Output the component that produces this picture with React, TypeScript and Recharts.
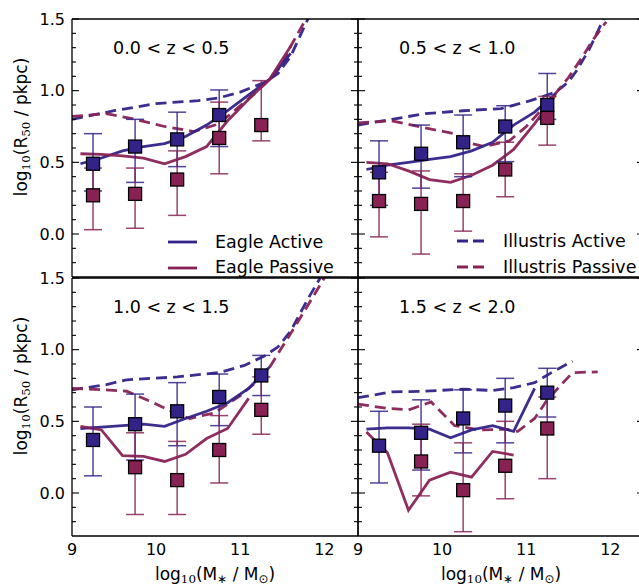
import React from 'react';
import { ComposedChart, ErrorBar, Line, Scatter, XAxis, YAxis } from 'recharts';

const BLUE = '#332288';
const WINE = '#882255';
const FONT = '"DejaVu Sans", sans-serif';

// mass bins of the observed medians
const obsX = [9.25, 9.75, 10.25, 10.75, 11.25];
// Eagle curves all sit on one mass grid
const eagleX = [9.1, 9.35, 9.6, 9.85, 10.1, 10.35, 10.6, 10.85, 11.1, 11.35, 11.6];

const zLabels = ['0.0 < z < 0.5', '0.5 < z < 1.0', '1.0 < z < 1.5', '1.5 < z < 2.0'];

const xTickLabels = [9, 10, 11, 12];
const yTickLabels = [0, 0.5, 1, 1.5];
const xTicksAll = [9, 9.25, 9.5, 9.75, 10, 10.25, 10.5, 10.75, 11, 11.25, 11.5, 11.75, 12, 12.25];
const yTicksAll = [-0.2, -0.1, 0, 0.1, 0.2, 0.3, 0.4, 0.5, 0.6, 0.7, 0.8, 0.9, 1, 1.1, 1.2, 1.3, 1.4, 1.5];

// --- 0.0 < z < 0.5
const activeMed0 = [0.49, 0.61, 0.66, 0.83, null];
const activeLo0 = [0.3, 0.36, 0.47, 0.61, null];
const activeHi0 = [0.7, 0.8, 0.85, 1.005, null];
const passiveMed0 = [0.27, 0.28, 0.38, 0.67, 0.76];
const passiveLo0 = [0.03, 0.04, 0.13, 0.42, 0.65];
const passiveHi0 = [0.46, 0.46, 0.58, 0.92, 1.07];
const eagleActive0 = [0.49, 0.53, 0.58, 0.61, 0.63, 0.68, 0.76, 0.86, 0.97, 1.08, 1.26];
const eaglePassive0 = [0.56, 0.555, 0.545, 0.53, 0.49, 0.54, 0.61, 0.79, 0.94, 1.08, 1.31];
const illActive0: [number, number][] = [
  [9.0, 0.8], [9.5, 0.86], [10.0, 0.91], [10.5, 0.93], [10.75, 0.95], [11.0, 0.99],
  [11.3, 1.06], [11.45, 1.12], [11.6, 1.24], [11.82, 1.52],
];
const illPassive0: [number, number][] = [
  [9.0, 0.82], [9.4, 0.84], [9.75, 0.8], [10.1, 0.75], [10.45, 0.715], [10.7, 0.76],
  [10.85, 0.82], [11.05, 0.92], [11.3, 1.05], [11.5, 1.18], [11.6, 1.31], [11.8, 1.52],
];

// --- 0.5 < z < 1.0
const activeMed1 = [0.43, 0.56, 0.64, 0.75, 0.9];
const activeLo1 = [0.2, 0.32, 0.4, 0.505, 0.8];
const activeHi1 = [0.65, 0.76, 0.83, 0.895, 1.12];
const passiveMed1 = [0.23, 0.21, 0.23, 0.45, 0.81];
const passiveLo1 = [-0.02, -0.14, 0.02, 0.26, 0.62];
const passiveHi1 = [0.43, 0.44, 0.42, 0.64, 0.96];
const eagleActive1 = [0.45, 0.48, 0.5, 0.52, 0.54, 0.58, 0.64, 0.76, 0.85, 0.98];
const eaglePassive1 = [0.5, 0.49, 0.44, 0.38, 0.36, 0.41, 0.48, 0.59, 0.77, 0.97];
const illActive1: [number, number][] = [
  [9.0, 0.76], [9.4, 0.8], [9.8, 0.84], [10.25, 0.86], [10.7, 0.875], [11.05, 0.93],
  [11.35, 0.99], [11.5, 1.06], [11.6, 1.14], [11.75, 1.29], [11.92, 1.5],
];
const illPassive1: [number, number][] = [
  [9.0, 0.775], [9.4, 0.79], [9.8, 0.74], [10.15, 0.7], [10.35, 0.63], [10.5, 0.61],
  [10.8, 0.65], [11.0, 0.75], [11.25, 0.91], [11.5, 1.09], [11.65, 1.22], [11.8, 1.36], [11.95, 1.48],
];

// --- 1.0 < z < 1.5
const activeMed2 = [0.37, 0.48, 0.57, 0.67, 0.82];
const activeLo2 = [0.12, 0.23, 0.33, 0.47, 0.68];
const activeHi2 = [0.6, 0.69, 0.77, 0.83, 0.96];
const passiveMed2 = [null, 0.18, 0.09, 0.3, 0.58];
const passiveLo2 = [null, -0.15, -0.15, 0.07, 0.41];
const passiveHi2 = [null, 0.42, 0.36, 0.54, 0.81];
const eagleActive2 = [0.45, 0.46, 0.47, 0.48, 0.465, 0.52, 0.57, 0.63, 0.73, 0.88];
const eaglePassive2 = [0.465, 0.44, 0.26, 0.255, 0.22, 0.27, 0.38, 0.45, 0.66];
const illActive2: [number, number][] = [
  [9.0, 0.72], [9.4, 0.755], [9.65, 0.79], [9.95, 0.8], [10.25, 0.81], [10.75, 0.84],
  [11.05, 0.89], [11.3, 0.96], [11.45, 1.02], [11.6, 1.13], [11.8, 1.35], [11.95, 1.5],
];
const illPassive2: [number, number][] = [
  [9.0, 0.73], [9.4, 0.72], [9.65, 0.71], [9.95, 0.635], [10.25, 0.55], [10.4, 0.52],
  [10.7, 0.56], [11.0, 0.68], [11.3, 0.83], [11.5, 1.02], [11.65, 1.16], [12.0, 1.5],
];

// --- 1.5 < z < 2.0
const activeMed3 = [0.33, 0.42, 0.52, 0.61, 0.7];
const activeLo3 = [0.07, 0.16, 0.28, 0.35, 0.53];
const activeHi3 = [0.57, 0.65, 0.72, 0.8, 0.87];
const passiveMed3 = [null, 0.22, 0.02, 0.19, 0.45];
const passiveLo3 = [null, -0.02, -0.27, -0.04, 0.1];
const passiveHi3 = [null, 0.48, 0.35, 0.5, 0.67];
const eagleActive3 = [0.445, 0.455, 0.455, 0.445, 0.385, 0.44, 0.47, 0.43, 0.73];
const eaglePassive3 = [0.425, 0.28, -0.12, 0.09, 0.145, 0.11, 0.29, 0.265];
const illActive3: [number, number][] = [
  [9.0, 0.665], [9.4, 0.705], [9.8, 0.71], [10.25, 0.725], [10.6, 0.715], [10.85, 0.735],
  [11.1, 0.77], [11.3, 0.84], [11.55, 0.92],
];
const illPassive3: [number, number][] = [
  [9.0, 0.62], [9.35, 0.59], [9.6, 0.58], [9.87, 0.635], [10.15, 0.47], [10.45, 0.44],
  [10.75, 0.445], [10.9, 0.43], [11.1, 0.52], [11.25, 0.65], [11.55, 0.84], [11.85, 0.845],
];

type XY = { x: number; y: number };
type Obs = { x: number; y: number; err: [number, number] };

const onGrid = (ys: number[]): XY[] => ys.map((y, i) => ({ x: eagleX[i], y }));
const fromPairs = (p: [number, number][]): XY[] => p.map(([x, y]) => ({ x, y }));
const toObs = (med: (number | null)[], lo: (number | null)[], hi: (number | null)[]): Obs[] => {
  const out: Obs[] = [];
  med.forEach((m, i) => {
    if (m == null) return;
    out.push({ x: obsX[i], y: m, err: [m - (lo[i] as number), (hi[i] as number) - m] });
  });
  return out;
};

const X_DOMAIN: [number, number] = [9, 12.4];
const Y_DOMAIN: [number, number] = [-0.3, 1.5];

const PLOT_W = 286;
const PLOT_H = 258;
const PAD_L = 72;
const PAD_T = 10;
const PAD_R = 10;
const PAD_B = 40;

const frameLine = { stroke: '#000', strokeWidth: 1.3 };

// inward tick marks, longer on labelled values
const tickMark = (side: 'left' | 'right' | 'top' | 'bottom', majors: number[]) => (p: any) => {
  const { x, y, payload } = p;
  const len = majors.includes(payload.value) ? 7 : 4;
  let x2 = x;
  let y2 = y;
  if (side === 'left') x2 = x + len;
  if (side === 'right') x2 = x - len;
  if (side === 'top') y2 = y + len;
  if (side === 'bottom') y2 = y - len;
  return <line x1={x} y1={y} x2={x2} y2={y2} stroke="#000" strokeWidth={1.1} />;
};

const frameAxes = () => [
  <XAxis key="fb" xAxisId="fb" orientation="bottom" mirror height={1} type="number" domain={X_DOMAIN}
    allowDataOverflow ticks={xTicksAll} interval={0} tickSize={0} tickMargin={0} tickLine={false}
    tick={tickMark('bottom', xTickLabels)} axisLine={frameLine} />,
  <XAxis key="ft" xAxisId="ft" orientation="top" mirror height={1} type="number" domain={X_DOMAIN}
    allowDataOverflow ticks={xTicksAll} interval={0} tickSize={0} tickMargin={0} tickLine={false}
    tick={tickMark('top', xTickLabels)} axisLine={frameLine} />,
  <YAxis key="fl" yAxisId="fl" orientation="left" mirror width={1} type="number" domain={Y_DOMAIN}
    allowDataOverflow ticks={yTicksAll} interval={0} tickSize={0} tickMargin={0} tickLine={false}
    tick={tickMark('left', yTickLabels)} axisLine={frameLine} />,
  <YAxis key="fr" yAxisId="fr" orientation="right" mirror width={1} type="number" domain={Y_DOMAIN}
    allowDataOverflow ticks={yTicksAll} interval={0} tickSize={0} tickMargin={0} tickLine={false}
    tick={tickMark('right', yTickLabels)} axisLine={frameLine} />,
];

const square = (color: string) => (p: any) => (
  <rect x={p.cx - 6.5} y={p.cy - 6.5} width={13} height={13} fill={color} stroke="#000" strokeWidth={1.3} />
);

interface PanelProps {
  px: number;
  py: number;
  label: string;
  showX: boolean;
  showY: boolean;
  eA: XY[];
  eP: XY[];
  iA: XY[];
  iP: XY[];
  oA: Obs[];
  oP: Obs[];
}

function Panel({ px, py, label, showX, showY, eA, eP, iA, iP, oA, oP }: PanelProps) {
  const tickFont = { fontSize: 16, fill: '#000', fontFamily: FONT };
  return (
    <>
      <div style={{ position: 'absolute', left: px - PAD_L, top: py - PAD_T }}>
        <ComposedChart
          width={PAD_L + PLOT_W + PAD_R}
          height={PAD_T + PLOT_H + PAD_B}
          margin={{ top: PAD_T, right: PAD_R, bottom: 0, left: 0 }}
        >
          <XAxis xAxisId={0} dataKey="x" type="number" domain={X_DOMAIN} allowDataOverflow ticks={xTickLabels}
            interval={0} height={PAD_B} axisLine={false} tickLine={false} tickSize={0} tickMargin={8}
            tick={showX ? tickFont : false} />
          <YAxis yAxisId={0} dataKey="y" type="number" domain={Y_DOMAIN} allowDataOverflow ticks={yTickLabels}
            interval={0} width={PAD_L} axisLine={false} tickLine={false} tickSize={0} tickMargin={7}
            tick={showY ? tickFont : false} tickFormatter={(v: number) => v.toFixed(1)} />
          {frameAxes()}
          <Line data={iA} dataKey="y" stroke={BLUE} strokeWidth={2.8} strokeDasharray="11 6" dot={false}
            strokeOpacity={0.95} isAnimationActive={false} />
          <Line data={iP} dataKey="y" stroke={WINE} strokeWidth={2.8} strokeDasharray="11 6" dot={false}
            strokeOpacity={0.95} isAnimationActive={false} />
          <Line data={eA} dataKey="y" stroke={BLUE} strokeWidth={2.8} dot={false} strokeOpacity={0.95}
            isAnimationActive={false} />
          <Line data={eP} dataKey="y" stroke={WINE} strokeWidth={2.8} dot={false} strokeOpacity={0.95}
            isAnimationActive={false} />
          <Scatter data={oA} dataKey="y" shape={square(BLUE)} isAnimationActive={false}>
            <ErrorBar dataKey="err" direction="y" width={9} stroke={BLUE} strokeWidth={1.5} strokeOpacity={0.85} />
          </Scatter>
          <Scatter data={oP} dataKey="y" shape={square(WINE)} isAnimationActive={false}>
            <ErrorBar dataKey="err" direction="y" width={9} stroke={WINE} strokeWidth={1.5} strokeOpacity={0.85} />
          </Scatter>
        </ComposedChart>
      </div>
      <div style={{ position: 'absolute', left: px + 41, top: py + 21, fontSize: 17.5, lineHeight: 1, whiteSpace: 'nowrap' }}>
        {label}
      </div>
    </>
  );
}

const Sub = ({ children, serif }: { children: React.ReactNode; serif?: boolean }) => (
  <sub style={{ fontSize: '0.7em', verticalAlign: '-0.3em', lineHeight: 0, fontFamily: serif ? '"DejaVu Serif", serif' : undefined }}>
    {children}
  </sub>
);

const yTitle = (
  <>
    log<Sub serif>10</Sub>(R<Sub serif>50</Sub> / pkpc)
  </>
);
const xTitle = (
  <>
    log<Sub serif>10</Sub>(M<Sub>∗</Sub> / M<Sub>⊙</Sub>)
  </>
);

function LegendRow({ x, y, textX, color, dashed, text }: { x: number; y: number; textX: number; color: string; dashed: boolean; text: string }) {
  return (
    <>
      <svg style={{ position: 'absolute', left: x, top: y - 3 }} width={29} height={6}>
        <line x1={0} y1={3} x2={29} y2={3} stroke={color} strokeWidth={2.8} strokeDasharray={dashed ? '11 5' : undefined} />
      </svg>
      <div style={{ position: 'absolute', left: textX, top: y - 8.4, fontSize: 17.5, lineHeight: 1, whiteSpace: 'nowrap' }}>
        {text}
      </div>
    </>
  );
}

export default function App() {
  const rows = [19, 277.5];
  const cols = [72, 358];
  return (
    <div
      style={{
        position: 'absolute', left: 0, top: 0, width: 639, height: 585, overflow: 'hidden',
        background: '#fff', fontFamily: FONT, color: '#000',
      }}
    >
      <Panel px={cols[0]} py={rows[0]} label={zLabels[0]} showX={false} showY
        eA={onGrid(eagleActive0)} eP={onGrid(eaglePassive0)} iA={fromPairs(illActive0)} iP={fromPairs(illPassive0)}
        oA={toObs(activeMed0, activeLo0, activeHi0)} oP={toObs(passiveMed0, passiveLo0, passiveHi0)} />
      <Panel px={cols[1]} py={rows[0]} label={zLabels[1]} showX={false} showY={false}
        eA={onGrid(eagleActive1)} eP={onGrid(eaglePassive1)} iA={fromPairs(illActive1)} iP={fromPairs(illPassive1)}
        oA={toObs(activeMed1, activeLo1, activeHi1)} oP={toObs(passiveMed1, passiveLo1, passiveHi1)} />
      <Panel px={cols[0]} py={rows[1]} label={zLabels[2]} showX showY
        eA={onGrid(eagleActive2)} eP={onGrid(eaglePassive2)} iA={fromPairs(illActive2)} iP={fromPairs(illPassive2)}
        oA={toObs(activeMed2, activeLo2, activeHi2)} oP={toObs(passiveMed2, passiveLo2, passiveHi2)} />
      <Panel px={cols[1]} py={rows[1]} label={zLabels[3]} showX showY={false}
        eA={onGrid(eagleActive3)} eP={onGrid(eaglePassive3)} iA={fromPairs(illActive3)} iP={fromPairs(illPassive3)}
        oA={toObs(activeMed3, activeLo3, activeHi3)} oP={toObs(passiveMed3, passiveLo3, passiveHi3)} />

      <LegendRow x={168} y={242} textX={215} color={BLUE} dashed={false} text="Eagle Active" />
      <LegendRow x={168} y={267.5} textX={215} color={WINE} dashed={false} text="Eagle Passive" />
      <LegendRow x={457} y={241} textX={503} color={BLUE} dashed text="Illustris Active" />
      <LegendRow x={457} y={267} textX={503} color={WINE} dashed text="Illustris Passive" />

      {[127, 386].map((cy) => (
        <div key={cy} style={{
          position: 'absolute', left: 21, top: cy, fontSize: 17, whiteSpace: 'nowrap', lineHeight: 1,
          transform: 'translate(-50%, -50%) rotate(-90deg)',
        }}>
          {yTitle}
        </div>
      ))}
      {[215, 501].map((cx) => (
        <div key={cx} style={{
          position: 'absolute', left: cx, top: 574, fontSize: 17, whiteSpace: 'nowrap', lineHeight: 1,
          transform: 'translate(-50%, -50%)',
        }}>
          {xTitle}
        </div>
      ))}
    </div>
  );
}
